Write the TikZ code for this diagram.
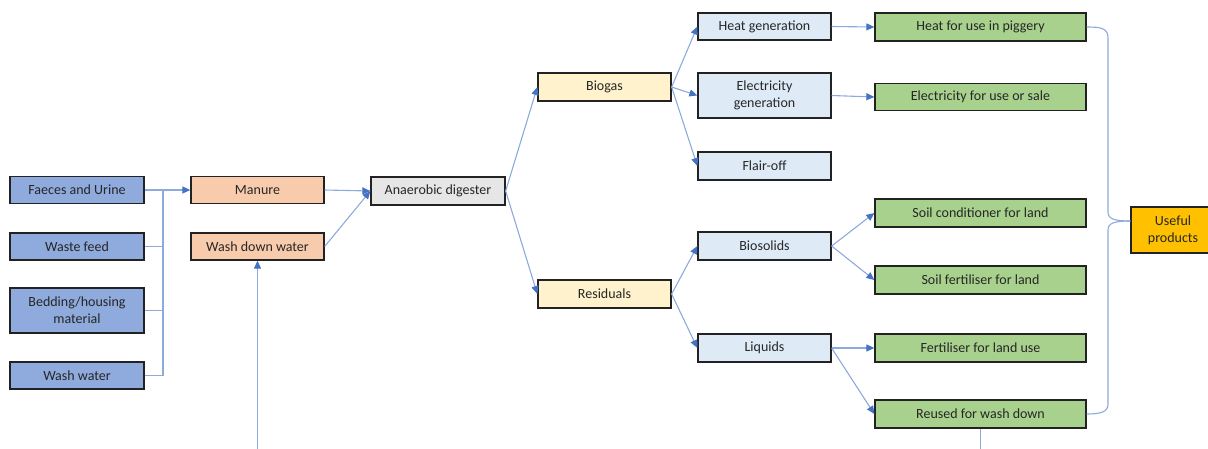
\documentclass[tikz,border=0pt]{standalone}
\usepackage{fontspec}
\setmainfont{Carlito}
\usetikzlibrary{arrows.meta,calc}

\definecolor{inblue}{HTML}{8FAADC}
\definecolor{peach}{HTML}{F8CBAD}
\definecolor{digrey}{HTML}{E7E6E6}
\definecolor{paleyellow}{HTML}{FFF2CC}
\definecolor{paleblue}{HTML}{DEEBF7}
\definecolor{leafgreen}{HTML}{A9D18E}
\definecolor{gold}{HTML}{FFC000}
\definecolor{linkblue}{HTML}{8EA9DB}
\definecolor{tipblue}{HTML}{4472C4}
\definecolor{boxline}{HTML}{222222}
\definecolor{txt}{HTML}{262626}

\tikzset{
  box/.style={draw=boxline, line width=1.3pt, inner sep=0pt, align=center,
    text=txt, font=\fontsize{14}{17}\selectfont, minimum height=27pt},
  inbox/.style={box, fill=inblue, minimum width=134pt},
  stagebox/.style={box, fill=peach, minimum width=133pt},
  digbox/.style={box, fill=digrey, minimum width=134pt, minimum height=28pt},
  gasbox/.style={box, fill=paleyellow, minimum width=133pt, minimum height=28pt},
  procbox/.style={box, fill=paleblue, minimum width=133pt, minimum height=28pt},
  prodbox/.style={box, fill=leafgreen, minimum width=211pt, minimum height=28pt},
  goalbox/.style={box, fill=gold, minimum width=84pt, minimum height=46pt},
  conn/.style={draw=linkblue, line width=1.1pt},
  arr/.style={conn, -{Triangle[length=8pt,width=7pt,color=tipblue]}},
}

\begin{document}
\begin{tikzpicture}[x=1pt,y=-1pt]
\useasboundingbox (0,0) rectangle (1208,448);
\begin{scope}
\clip (0,0) rectangle (1208,448);

% inputs
\node[inbox] (fu) at (77,190) {Faeces and Urine};
\node[inbox] (wf) at (77,246.5) {Waste feed};
\node[inbox, minimum height=45pt] (bh) at (77,310.5) {Bedding/housing\\material};
\node[inbox] (ww) at (77,375.5) {Wash water};

% intermediate streams
\node[stagebox] (manure) at (257.5,190) {Manure};
\node[stagebox] (wdw) at (257.5,246.5) {Wash down water};

% digester and its outputs
\node[digbox] (ad) at (438,191) {Anaerobic digester};
\node[gasbox] (biogas) at (604.5,87) {Biogas};
\node[gasbox] (resid) at (604.5,294) {Residuals};

% processing
\node[procbox, minimum height=27pt] (heatgen) at (764.5,26.5) {Heat generation};
\node[procbox, minimum height=45pt] (elecgen) at (764.5,95.5) {Electricity\\generation};
\node[procbox] (flair) at (764.5,166) {Flair-off};
\node[procbox] (biosol) at (764.5,246) {Biosolids};
\node[procbox] (liquids) at (764.5,348) {Liquids};

% products
\node[prodbox] (heatuse) at (980.5,27) {Heat for use in piggery};
\node[prodbox, minimum height=27pt] (elecuse) at (980.5,97) {Electricity for use or sale};
\node[prodbox] (soilcond) at (980.5,213) {Soil conditioner for land};
\node[prodbox] (soilfert) at (980.5,280) {Soil fertiliser for land};
\node[prodbox] (fertuse) at (980.5,348) {Fertiliser for land use};
\node[prodbox] (reused) at (980.5,414) {Reused for wash down};

\node[goalbox] (useful) at (1173,230) {Useful\\products};

% input collector
\coordinate (trunk) at (163,190);
\draw[conn] (fu.east) -- (trunk);
\draw[conn] (wf.east) -- (wf.east -| trunk);
\draw[conn] (bh.east) -- (bh.east -| trunk);
\draw[conn] (ww.east) -- (ww.east -| trunk);
\draw[conn] (trunk) -- (ww.east -| trunk);
\draw[arr] (trunk) -- (manure.west);

% into the digester
\draw[arr] (manure.east) -- (ad.west);
\draw[arr] (wdw.east) -- (ad.west);

% digester outputs
\draw[arr] (ad.east) -- (biogas.west);
\draw[arr] (ad.east) -- (resid.west);

% biogas uses
\draw[arr] (biogas.east) -- (heatgen.west);
\draw[arr] (biogas.east) -- (elecgen.west);
\draw[arr] (biogas.east) -- (flair.west);
\draw[arr] (heatgen.east) -- (heatuse.west);
\draw[arr] (elecgen.east) -- (elecuse.west);

% residual uses
\draw[arr] (resid.east) -- (biosol.west);
\draw[arr] (resid.east) -- (liquids.west);
\draw[arr] (biosol.east) -- (soilcond.west);
\draw[arr] (biosol.east) -- (soilfert.west);
\draw[arr] (liquids.east) -- (fertuse.west);
\draw[arr] (liquids.east) -- (reused.west);

% brace gathering the useful products
\coordinate (tip) at ([yshift=9pt]useful.west);
\draw[conn] (heatuse.east) .. controls +(14,0) and +(0,-10) .. (1108,38)
  -- (1108,212) .. controls +(0,7) and +(-16,0) .. (tip);
\draw[conn] (tip) .. controls +(-16,0) and +(0,-7) .. (1108,230)
  -- (1108,404) .. controls +(0,8) and +(14,0) .. (reused.east);

% recycled wash water
\coordinate (loop) at (reused.south |- 0,470);
\draw[arr] (reused.south) -- (loop) -| (wdw.south);
\end{scope}
\end{tikzpicture}
\end{document}
